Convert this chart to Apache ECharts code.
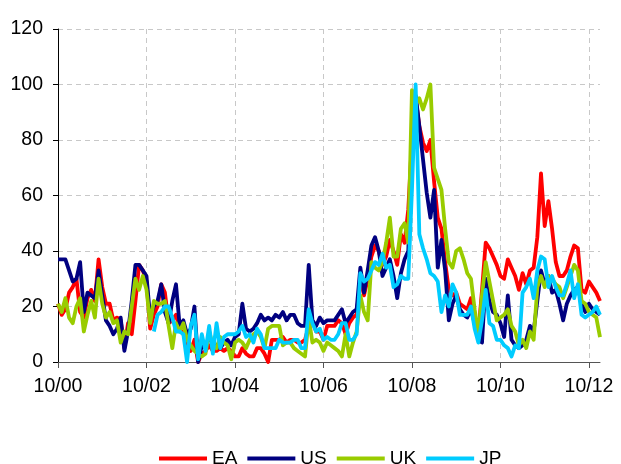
<!DOCTYPE html>
<html>
<head>
<meta charset="utf-8">
<script src="https://cdn.jsdelivr.net/npm/echarts@6/dist/echarts.min.js"></script>
<style>
  html, body { margin: 0; padding: 0; background: #fff; }
  #chart { width: 621px; height: 464px; }
</style>
</head>
<body>
<div id="chart"></div>
<script>
// Monthly observations, October 2000 to January 2013
const startYear = 2000, startMonth = 10, nMonths = 148;
const months = [];
for (let i = 0; i < nMonths; i++) {
  const m = (startMonth - 1 + i) % 12 + 1;
  const y = startYear + Math.floor((startMonth - 1 + i) / 12);
  months.push(String(m).padStart(2, '0') + '/' + String(y % 100).padStart(2, '0'));
}

const yTicks = [0, 20, 40, 60, 80, 100, 120];
const xTickLabels = ['10/00', '10/02', '10/04', '10/06', '10/08', '10/10', '10/12'];

const seriesNames = ['EA', 'US', 'UK', 'JP'];
const seriesColors = ['#FF0000', '#000080', '#99CC00', '#00CCFF'];

const EA = [
  21,17,19,25,27,30,18,16,23,26,22,37,
  27,21,21,15,16,15,5,14,10,22,35,33,
  29,12,17,20,28,25,14,15,17,12,10,6,
  4,8,0,3,4,6,4,4,5,4,5,4,
  2,2,5,3,2,2,5,5,3,0,8,8,
  8,9,7,8,8,7,7,8,13,15,11,11,
  8,13,13,13,15,14,10,14,16,17,30,24,
  30,38,42,40,35,38,44,40,35,46,43,55,
  80,95,85,79,76,80,65,52,48,36,26,24,
  25,21,20,19,23,17,10,26,43,41,38,35,
  31,30,37,34,31,26,32,28,33,34,45,68,
  49,58,48,36,31,31,33,38,42,41,26,25,
  29,27,25,22
];

const US = [
  37,37,37,33,29,30,36,18,25,24,23,33,
  24,15,13,10,12,16,4,11,22,35,35,33,
  31,16,20,22,28,18,14,22,28,13,15,10,
  12,20,0,6,5,9,7,6,5,7,8,6,
  9,10,21,12,11,12,14,17,15,16,15,17,
  16,18,15,17,17,14,13,13,35,15,13,16,
  14,15,15,15,17,19,14,16,18,19,34,25,
  33,42,45,40,31,34,37,31,23,32,37,40,
  75,96,85,73,61,52,62,34,44,33,15,21,
  24,19,17,16,19,14,8,7,30,22,18,17,
  14,9,24,8,6,5,6,8,13,11,22,33,
  28,31,25,26,21,15,21,24,26,27,21,18,
  21,19,18,17
];

const UK = [
  21,18,23,16,14,20,23,11,17,22,16,30,
  21,16,18,14,15,7,11,10,20,30,26,31,
  26,14,22,21,21,22,13,5,14,11,14,8,
  6,4,3,2,3,11,6,5,9,7,6,1,
  7,8,7,5,8,10,11,9,5,12,13,13,
  13,6,7,7,5,4,3,2,16,7,8,7,
  4,7,6,5,4,2,10,2,7,11,24,18,
  15,36,34,33,36,43,52,38,38,48,50,43,
  98,93,95,91,95,100,70,66,62,48,36,34,
  40,41,37,32,30,19,10,24,36,29,22,15,
  16,17,19,13,11,6,8,5,11,8,27,31,
  27,31,30,28,27,23,27,31,35,33,22,21,
  18,17,16,9
];

const JP = [
  null,null,null,null,null,null,null,null,null,null,null,null,
  null,null,null,null,null,null,null,null,null,null,null,null,
  null,null,11,17,18,20,20,16,11,11,10,0,
  13,17,1,10,4,13,3,14,5,9,10,10,
  10,11,13,9,10,7,12,10,5,5,5,5,
  8,7,7,7,8,8,5,5,19,14,11,12,
  8,9,8,8,10,14,14,8,8,10,32,29,
  30,33,36,35,39,34,35,27,28,31,30,30,
  62,100,46,41,37,32,31,29,18,24,20,28,
  25,17,17,17,20,12,7,15,26,14,13,8,
  8,6,5,2,6,5,25,27,30,23,33,38,
  37,27,31,27,24,24,28,33,23,28,17,16,
  17,18,20,17
];

const seriesData = [EA, US, UK, JP];

const labelFont = { fontFamily: 'Liberation Sans, Arial, sans-serif', fontSize: 19.5, color: '#000' };
// ticks, labels and vertical grid lines every second October
const showTick = (idx) => xTickLabels.indexOf(months[idx]) !== -1;

const chart = echarts.init(document.getElementById('chart'), null, { renderer: 'canvas' });
chart.setOption({
  animation: false,
  backgroundColor: '#fff',
  grid: { left: 58, top: 29, width: 542, height: 333, containLabel: false },
  xAxis: {
    type: 'category',
    data: months,
    boundaryGap: false,
    axisLine: { show: true, lineStyle: { color: '#555', width: 1 } },
    axisTick: { show: true, interval: (i) => showTick(i), length: 6, lineStyle: { color: '#555' } },
    axisLabel: Object.assign({ interval: (i) => showTick(i), margin: 15 }, labelFont),
    splitLine: { show: true, interval: (i) => showTick(i), lineStyle: { color: '#c8c8c8', type: [5, 4], width: 1 } }
  },
  yAxis: {
    type: 'value',
    min: yTicks[0],
    max: yTicks[yTicks.length - 1],
    interval: 20,
    axisLine: { show: true, lineStyle: { color: '#000', width: 1 } },
    axisTick: { show: true, length: 5, lineStyle: { color: '#000' } },
    axisLabel: Object.assign({ margin: 15 }, labelFont),
    splitLine: { show: true, lineStyle: { color: '#c8c8c8', type: [5, 4], width: 1 } }
  },
  legend: {
    data: seriesNames,
    left: 159,
    top: 449,
    padding: 0,
    icon: 'rect',
    itemWidth: 48,
    itemHeight: 4,
    itemGap: 10,
    textStyle: Object.assign({}, labelFont, { fontSize: 19, padding: [0, 0, 4, 0] })
  },
  series: seriesNames.map((name, k) => ({
    name: name,
    type: 'line',
    data: seriesData[k],
    showSymbol: false,
    symbol: 'none',
    connectNulls: false,
    lineStyle: { color: seriesColors[k], width: 3.8, join: 'round' },
    itemStyle: { color: seriesColors[k] },
    z: 2 + k
  }))
});
</script>
</body>
</html>
